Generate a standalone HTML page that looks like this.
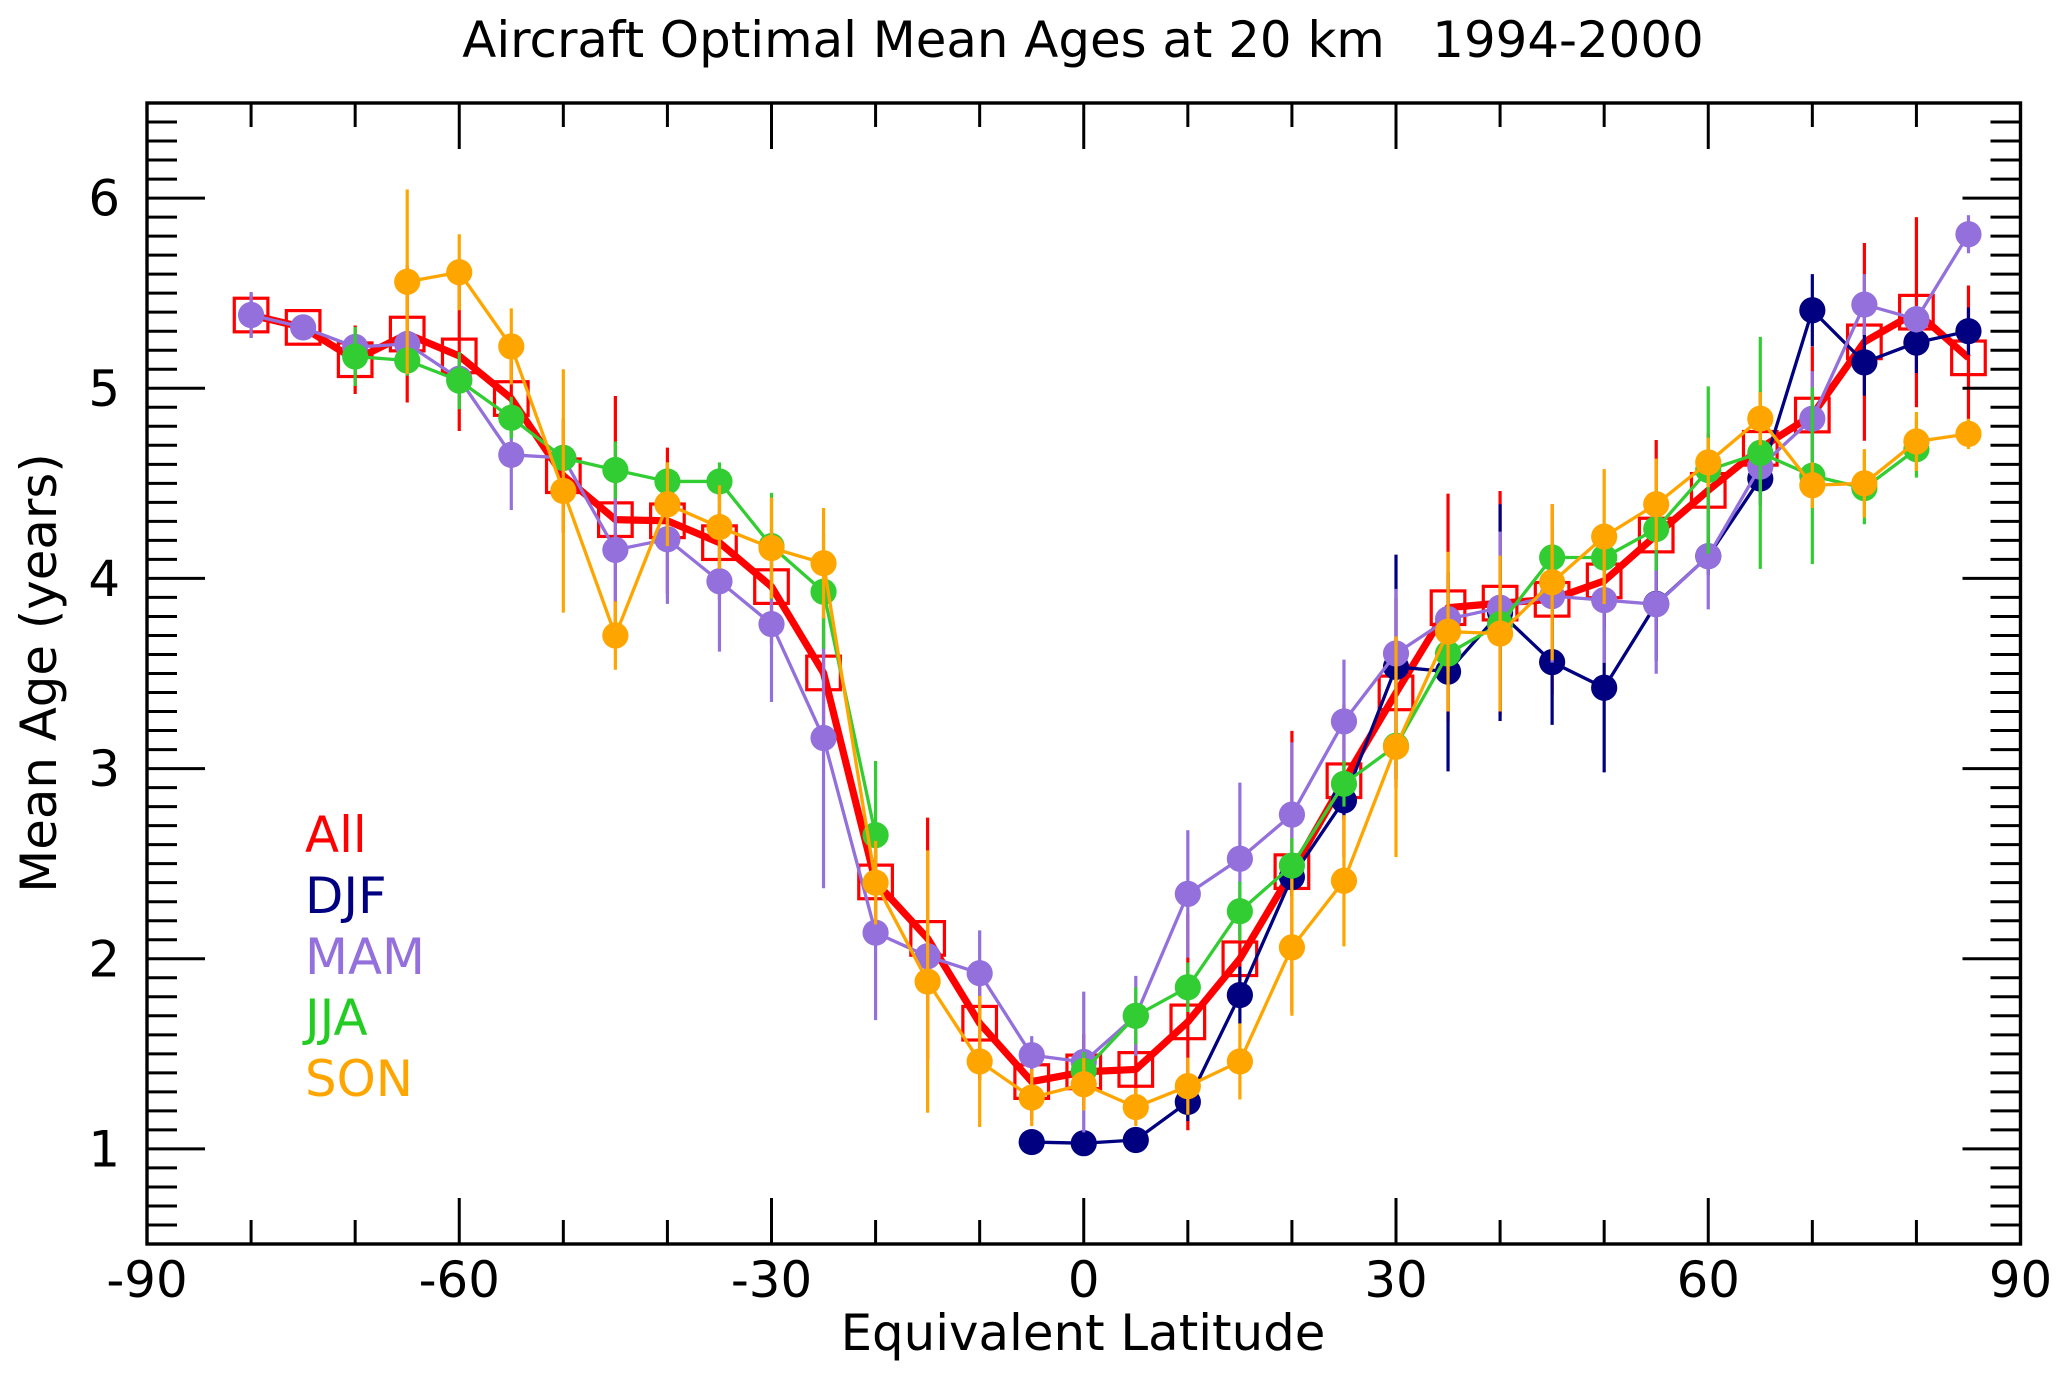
<!DOCTYPE html>
<html>
<head>
<meta charset="utf-8">
<title>Aircraft Optimal Mean Ages at 20 km</title>
<style>
html,body{margin:0;padding:0;background:#fff;width:2067px;height:1378px;overflow:hidden}
svg{display:block}
text{font-family:"DejaVu Sans","Liberation Sans",sans-serif;font-size:49.8px;fill:#000;white-space:pre}
</style>
</head>
<body>
<svg id="chart" xmlns="http://www.w3.org/2000/svg" width="2067" height="1378" viewBox="0 0 2067 1378">
  <rect x="0" y="0" width="2067" height="1378" fill="#fff"/>
  <text x="1083" y="57" text-anchor="middle" xml:space="preserve">Aircraft Optimal Mean Ages at 20 km   1994-2000</text>
  <text x="1083" y="1350" text-anchor="middle">Equivalent Latitude</text>
  <text transform="translate(56,673) rotate(-90)" text-anchor="middle">Mean Age (years)</text>
  <g id="series-layer"></g>
  <g id="axis-layer"></g>
  <g id="legend">
    <text x="305" y="852" style="fill:#ff0000">All</text>
    <text x="305" y="913" style="fill:#000080">DJF</text>
    <text x="305" y="974" style="fill:#9370db">MAM</text>
    <text x="305" y="1035" style="fill:#22cc22">JJA</text>
    <text x="305" y="1096" style="fill:#ffa500">SON</text>
  </g>
</svg>
<script>
var latitudes = [-80,-75,-70,-65,-60,-55,-50,-45,-40,-35,-30,-25,-20,-15,-10,-5,0,5,10,15,20,25,30,35,40,45,50,55,60,65,70,75,80,85];

var allValues = [5.385,5.32,5.15,5.285,5.17,4.946,4.54,4.309,4.303,4.188,3.957,3.503,2.404,2.107,1.661,1.354,1.405,1.418,1.668,2.0,2.458,2.936,3.398,3.846,3.87,3.89,3.987,4.228,4.463,4.684,4.859,5.244,5.40,5.16];
var allErrors = [0.12,0.03,0.18,0.36,0.395,0.2,0.3,0.65,0.385,0.3,0.3,0.3,0.3,0.635,0.3,0.2,0.2,0.15,0.57,0.25,0.74,0.4,0.5,0.6,0.59,0.5,0.25,0.5,0.3,0.3,0.36,0.52,0.5,0.38];

var djfValues = [null,null,null,null,null,null,null,null,null,null,null,null,null,null,null,1.036,1.03,1.047,1.247,1.809,2.43,2.833,3.535,3.51,3.82,3.56,3.425,3.866,4.117,4.525,5.41,5.136,5.24,5.30];
var djfErrors = [null,null,null,null,null,null,null,null,null,null,null,null,null,null,null,0.02,0.02,0.02,0.1,0.15,0.1,0.1,0.59,0.525,0.57,0.33,0.445,0.3,0.1,0.1,0.19,0.175,0.16,0.125];

var mamValues = [5.385,5.32,5.217,5.233,5.05,4.65,4.634,4.15,4.206,3.985,3.76,3.161,2.137,2.013,1.924,1.493,1.457,1.70,2.341,2.526,2.758,3.248,3.605,3.786,3.846,3.907,3.886,3.864,4.117,4.588,4.84,5.44,5.363,5.81];
var mamErrors = [0.12,0.02,0.02,0.05,0.1,0.29,0.05,0.27,0.34,0.37,0.41,0.79,0.46,0.1,0.225,0.1,0.37,0.21,0.335,0.4,0.38,0.325,0.34,0.2,0.4,0.35,0.33,0.365,0.28,0.2,0.25,0.16,0.07,0.1];

var jjaValues = [null,null,5.167,5.146,5.04,4.845,4.634,4.57,4.51,4.51,4.17,3.93,2.65,null,null,null,1.41,1.70,1.85,2.25,2.49,2.92,3.12,3.605,3.76,4.11,4.11,4.26,4.57,4.66,4.54,4.475,4.68,null];
var jjaErrors = [null,null,0.155,0.08,0.15,0.11,0.05,0.15,0.1,0.1,0.28,0.3,0.39,null,null,null,0.1,0.15,0.13,0.155,0.145,0.12,0.1,0.1,0.1,0.05,0.1,0.22,0.44,0.61,0.465,0.19,0.15,null];

var sonValues = [null,null,null,5.56,5.61,5.22,4.46,3.70,4.39,4.27,4.16,4.08,2.40,1.88,1.46,1.27,1.34,1.22,1.33,1.46,2.06,2.41,3.115,3.72,3.71,3.98,4.22,4.39,4.61,4.84,4.49,4.50,4.72,4.76];
var sonErrors = [null,null,null,0.485,0.2,0.2,0.64,0.18,0.22,0.22,0.265,0.29,0.22,0.69,0.345,0.15,0.138,0.1,0.15,0.2,0.36,0.345,0.58,0.42,0.41,0.41,0.355,0.24,0.13,0.14,0.12,0.18,0.155,0.08];

var xMajorTicks = [-90,-60,-30,0,30,60,90];
var xMinorTicks = [-80,-70,-50,-40,-20,-10,10,20,40,50,70,80];
var yMajorTicks = [1,2,3,4,5,6];
var yMinorTicks = [0.6,0.7,0.8,0.9,1.1,1.2,1.3,1.4,1.5,1.6,1.7,1.8,1.9,2.1,2.2,2.3,2.4,2.5,2.6,2.7,2.8,2.9,3.1,3.2,3.3,3.4,3.5,3.6,3.7,3.8,3.9,4.1,4.2,4.3,4.4,4.5,4.6,4.7,4.8,4.9,5.1,5.2,5.3,5.4,5.5,5.6,5.7,5.8,5.9,6.1,6.2,6.3,6.4];

var SVGNS = 'http://www.w3.org/2000/svg';
var plotLeft = 147, plotRight = 2020.5, plotTop = 103, plotBottom = 1244;

function xScale(lat) { return plotLeft + (lat + 90) / 180 * (plotRight - plotLeft); }
function yScale(v) { return plotBottom - (v - 0.5) / 6 * (plotBottom - plotTop); }

function make(tag, attrs, parent) {
  var el = document.createElementNS(SVGNS, tag);
  for (var k in attrs) { el.setAttribute(k, attrs[k]); }
  parent.appendChild(el);
  return el;
}

var seriesLayer = document.getElementById('series-layer');
var axisLayer = document.getElementById('axis-layer');

function drawBars(group, values, errors, color, key) {
  latitudes.forEach(function (lat, i) {
    if (values[i] === null || errors[i] === null) { return; }
    var bar = make('line', {x1: xScale(lat), x2: xScale(lat), y1: yScale(values[i] - errors[i]), y2: yScale(values[i] + errors[i]), stroke: color, 'stroke-width': 3.2}, group);
    
    
  });
}

function pathFor(values) {
  var d = '', pen = false;
  latitudes.forEach(function (lat, i) {
    if (values[i] === null) { pen = false; return; }
    d += (pen ? 'L' : 'M') + xScale(lat).toFixed(2) + ' ' + yScale(values[i]).toFixed(2);
    pen = true;
  });
  return d;
}

function drawCircleSeries(values, errors, color, key) {
  var g = make('g', {}, seriesLayer);
  
  
  drawBars(g, values, errors, color, key);
  var line = make('path', {d: pathFor(values), fill: 'none', stroke: color, 'stroke-width': 3.3, 'stroke-linejoin': 'round'}, g);
  
  
  latitudes.forEach(function (lat, i) {
    if (values[i] === null) { return; }
    var dot = make('circle', {cx: xScale(lat), cy: yScale(values[i]), r: 13.1, fill: color}, g);
    
    
  });
}

function drawAllSeries() {
  var g = make('g', {}, seriesLayer);
  
  
  drawBars(g, allValues, allErrors, '#ff0000', 'all');
  latitudes.forEach(function (lat, i) {
    var box = make('rect', {x: xScale(lat) - 16.8, y: yScale(allValues[i]) - 16.8, width: 33.6, height: 33.6, fill: 'none', stroke: '#ff0000', 'stroke-width': 3.2}, g);
    
    
  });
  var line = make('path', {d: pathFor(allValues), fill: 'none', stroke: '#ff0000', 'stroke-width': 7.2, 'stroke-linejoin': 'round'}, g);
  
  
}

drawAllSeries();
drawCircleSeries(djfValues, djfErrors, '#000080', 'djf');
drawCircleSeries(mamValues, mamErrors, '#9370db', 'mam');
drawCircleSeries(jjaValues, jjaErrors, '#32cd32', 'jja');
drawCircleSeries(sonValues, sonErrors, '#ffa500', 'son');

function drawAxes() {
  var frame = make('rect', {x: plotLeft, y: plotTop, width: plotRight - plotLeft, height: plotBottom - plotTop, fill: 'none', stroke: '#000', 'stroke-width': 3.4}, axisLayer);
  
  

  function xTick(lat, len, name) {
    var b = make('line', {x1: xScale(lat), x2: xScale(lat), y1: plotBottom, y2: plotBottom - len, stroke: '#000', 'stroke-width': 3}, axisLayer);
    
    
    var t = make('line', {x1: xScale(lat), x2: xScale(lat), y1: plotTop, y2: plotTop + len, stroke: '#000', 'stroke-width': 3}, axisLayer);
    
    
  }
  function yTick(v, len, name) {
    var l = make('line', {x1: plotLeft, x2: plotLeft + len, y1: yScale(v), y2: yScale(v), stroke: '#000', 'stroke-width': 3}, axisLayer);
    
    
    var r = make('line', {x1: plotRight, x2: plotRight - len, y1: yScale(v), y2: yScale(v), stroke: '#000', 'stroke-width': 3}, axisLayer);
    
    
  }

  xMinorTicks.forEach(function (lat) { xTick(lat, 24, 'x-minor-tick'); });
  xMajorTicks.forEach(function (lat) {
    xTick(lat, 46, 'x-major-tick');
    var label = make('text', {x: xScale(lat), y: 1297, 'text-anchor': 'middle'}, axisLayer);
    
    
    label.textContent = String(lat);
  });
  yMinorTicks.forEach(function (v) { yTick(v, 30, 'y-minor-tick'); });
  yMajorTicks.forEach(function (v) {
    yTick(v, 58, 'y-major-tick');
    var label = make('text', {x: 120, y: yScale(v) + 17.5, 'text-anchor': 'end'}, axisLayer);
    
    
    label.textContent = String(v);
  });
}
drawAxes();
</script>
</body>
</html>
